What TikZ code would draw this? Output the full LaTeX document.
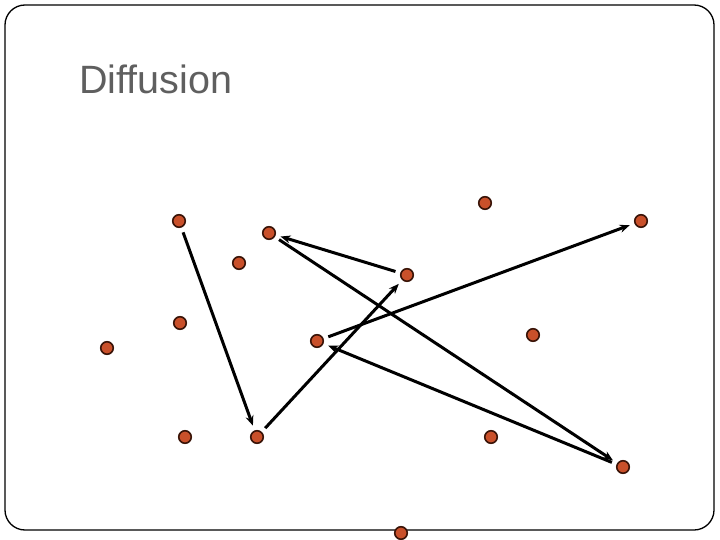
\documentclass[tikz,border=0pt]{standalone}
\usepackage{fontspec}
\setmainfont{Liberation Sans}
\usetikzlibrary{arrows.meta}
\definecolor{dotfill}{HTML}{C9502A}
\definecolor{dotline}{HTML}{3A1408}
\definecolor{titlegray}{HTML}{5F5F5F}
\begin{document}
\begin{tikzpicture}[x=1pt,y=-1pt,
  dot/.style={circle,fill=dotfill,draw=dotline,line width=1.6pt,minimum size=12.5pt,inner sep=0pt},
  arr/.style={line width=3pt,-{Stealth[length=10pt,width=8pt]},shorten <=5pt,shorten >=5pt}]
\useasboundingbox (0,0) rectangle (720,540);
\draw[line width=1.3pt,rounded corners=20pt] (5,5) rectangle (714,530);
\node[anchor=base west,text=titlegray,font=\fontsize{39.5}{41}\selectfont,inner sep=0pt] (title) at (79,94) {Diffusion};
\node[dot] (a) at (179,221) {};
\node[dot] (b) at (269,233) {};
\node[dot] (c) at (239,263) {};
\node[dot] (d) at (180,323) {};
\node[dot] (e) at (107,348) {};
\node[dot] (f) at (185,437) {};
\node[dot] (g) at (257,437) {};
\node[dot] (h) at (317,341) {};
\node[dot] (i) at (407,275) {};
\node[dot] (j) at (485,203) {};
\node[dot] (k) at (641,221) {};
\node[dot] (l) at (533,335) {};
\node[dot] (m) at (491,437) {};
\node[dot] (n) at (623,467) {};
\node[dot] (o) at (401,533) {};
\draw[arr] (a) -- (g);
\draw[arr] (g) -- (i);
\draw[arr] (i) -- (b);
\draw[arr] (b) -- (n);
\draw[arr] (n) -- (h);
\draw[arr] (h) -- (k);
\end{tikzpicture}
\end{document}
